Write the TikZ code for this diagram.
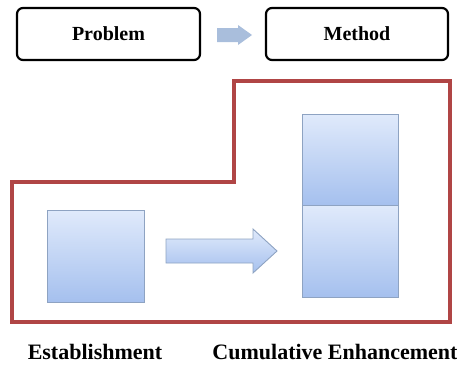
\documentclass[tikz,border=0pt]{standalone}
\usepackage{fontspec}
\setmainfont{Liberation Serif}
\begin{document}
\begin{tikzpicture}[x=1pt,y=-1pt,
  stagebox/.style={draw=black,line width=2.2pt,rounded corners=6pt,fill=white},
  block/.style={draw=blockline,line width=0.9pt,top color=blocktop,bottom color=blockbot},
  frame/.style={draw=framered,line width=3.2pt,line join=miter},
  caption/.style={font=\bfseries\fontsize{22}{25}\selectfont,text=black},
  title/.style={font=\bfseries\fontsize{20}{23}\selectfont,text=black}]
\definecolor{blocktop}{HTML}{E0EAFB}
\definecolor{blockbot}{HTML}{A5C0EE}
\definecolor{blockline}{HTML}{8EA3C2}
\definecolor{framered}{HTML}{B04545}
\definecolor{arrowblue}{HTML}{A9BEDC}
\useasboundingbox (0,0) rectangle (457,364);

% top row: problem -> method
\node[stagebox,minimum width=183pt,minimum height=52pt,title] (problem) at (108.5,34) {Problem};
\node[stagebox,minimum width=182pt,minimum height=52pt,title] (method) at (357,34) {Method};
\fill[arrowblue] (217,28) -- (238,28) -- (238,25) -- (252,35) -- (238,45) -- (238,42) -- (217,42) -- cycle;

% stepped outline
\draw[frame] (12,182) -- (234,182) -- (234,81) -- (450,81) -- (450,322) -- (12,322) -- cycle;

% establishment block
\node[block,minimum width=97pt,minimum height=92pt,inner sep=0pt] (est) at (95.5,256) {};

% shaded arrow between blocks
\shade[top color=blocktop,bottom color=blockbot,draw=blockline,line width=0.9pt]
  (166,239) -- (253,239) -- (253,229) -- (277,251) -- (253,273) -- (253,263) -- (166,263) -- cycle;

% stacked enhancement blocks
\node[block,minimum width=96pt,minimum height=91pt,inner sep=0pt] (top) at (350,159.5) {};
\node[block,minimum width=96pt,minimum height=92pt,inner sep=0pt] (bot) at (350,251) {};

% captions
\node[caption] (lab1) at (95,352) {Establishment};
\node[caption] (lab2) at (335,352) {Cumulative Enhancement};
\end{tikzpicture}
\end{document}
